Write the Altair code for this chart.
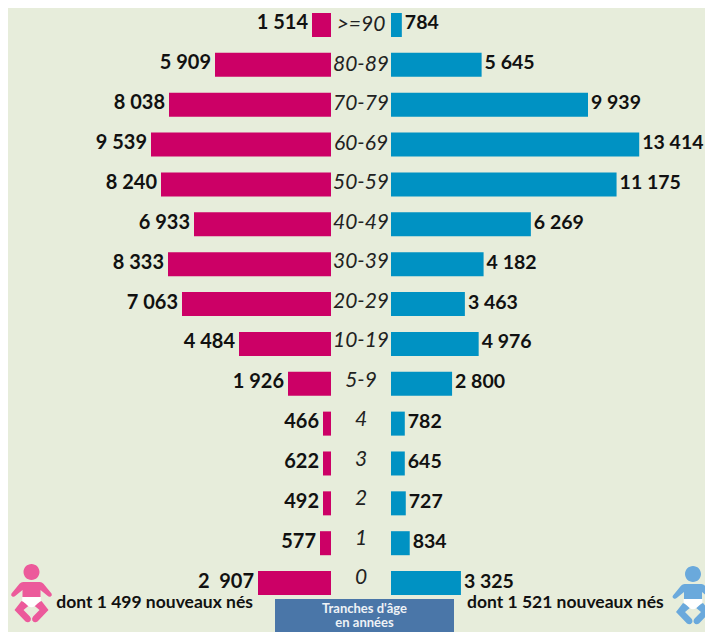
import altair as alt
import pandas as pd

ages = [">=90", "80-89", "70-79", "60-69", "50-59", "40-49", "30-39", "20-29",
        "10-19", "5-9", "4", "3", "2", "1", "0"]
women_labels = ["1 514", "5 909", "8 038", "9 539", "8 240", "6 933", "8 333", "7 063",
                "4 484", "1 926", "466", "622", "492", "577", "2\u00a0\u00a0907"]
men_labels = ["784", "5 645", "9 939", "13 414", "11 175", "6 269", "4 182", "3 463",
              "4 976", "2 800", "782", "645", "727", "834", "3 325"]
# Bar lengths as drawn in the picture (the picture's bars are not exactly proportional to their labels)
women_drawn = [950, 5800, 8100, 9000, 8500, 6850, 8150, 7450, 4600, 2150, 400, 400, 400, 550, 3650]
men_drawn = [550, 4600, 10000, 12600, 11450, 7100, 4700, 3750, 4450, 3100, 700, 700, 750, 950, 3550]
women_note = "dont 1 499 nouveaux nés"
men_note = "dont 1 521 nouveaux nés"
box_lines = ["Tranches d'âge", "en années"]

BG = "#e7eddb"
PINK = "#cc0066"
BLUE = "#0092c3"
TXT = "#111111"
FONT = "Lato"

df = pd.DataFrame({"age": ages, "w": women_drawn, "m": men_drawn,
                   "wl": women_labels, "ml": men_labels})

y_bar = alt.Y("age:N", sort=ages, axis=None, title=None,
              scale=alt.Scale(domain=ages, range=[-2.93, 595], paddingInner=0.4, paddingOuter=0.2))
y_lab = alt.Y("age:N", sort=ages, axis=None, title=None,
              scale=alt.Scale(domain=ages, range=[-4.96, 594], paddingInner=0, paddingOuter=0))
y_mid = alt.Y("age:N", sort=ages, axis=None, title=None,
              scale=alt.Scale(domain=ages, range=[-2.75, 590], paddingInner=0, paddingOuter=0))
x_w = alt.X("w:Q", axis=None, title=None, scale=alt.Scale(domain=[0, 16150], range=[323, 0]))
x_m = alt.X("m:Q", axis=None, title=None, scale=alt.Scale(domain=[0, 15939], range=[383, 697]))

base = alt.Chart(df)
bars_w = base.mark_bar(color=PINK, size=24).encode(x=x_w, y=y_bar)
bars_m = base.mark_bar(color=BLUE, size=24).encode(x=x_m, y=y_bar)
lab_w = base.mark_text(align="right", baseline="middle", dx=-4, font=FONT, fontWeight="bold",
                       fontSize=20, color=TXT).encode(x=x_w, y=y_lab, text="wl:N")
lab_m = base.mark_text(align="left", baseline="middle", dx=3, font=FONT, fontWeight="bold",
                       fontSize=19.5, color=TXT).encode(x=x_m, y=y_lab, text="ml:N")
lab_age = base.mark_text(align="center", baseline="middle", font=FONT, fontStyle="italic",
                         fontWeight=400, fontSize=21, color="#222222").encode(
    x=alt.value(353), y=y_mid, text="age:N")

one = alt.Chart(pd.DataFrame({"k": [0]}))
note_w = one.mark_text(text=women_note, align="right", baseline="middle", font=FONT, fontWeight="bold",
                       fontSize=17.5, color=TXT).encode(x=alt.value(245), y=alt.value(595))
note_m = one.mark_text(text=men_note, align="left", baseline="middle", font=FONT, fontWeight="bold",
                       fontSize=17.5, color=TXT).encode(x=alt.value(459), y=alt.value(595))
box = one.mark_rect(color="#4a76a8").encode(x=alt.value(267), x2=alt.value(446), y=alt.value(591), y2=alt.value(632))
box_t1 = one.mark_text(text=box_lines[0], align="center", baseline="middle", font=FONT, fontWeight="bold",
                       fontSize=13, color="#eef2f6").encode(x=alt.value(356.5), y=alt.value(600.5))
box_t2 = one.mark_text(text=box_lines[1], align="center", baseline="middle", font=FONT, fontWeight="bold",
                       fontSize=13, color="#eef2f6").encode(x=alt.value(356.5), y=alt.value(614.5))

# Baby pictogram, in symbol units around its centre
BODY = ("M-.4 -1.15 A.4 .4 0 1 1 .4 -1.15 A.4 .4 0 1 1 -.4 -1.15 Z "
        "M-.42 -.65 L.42 -.65 Q.52 -.65 .6 -.56 L1.0 -.08 Q1.06 .02 .96 .08 Q.88 .12 .8 .04 L.45 -.25 L.45 .25 L-.45 .25 "
        "L-.45 -.25 L-.8 .04 Q-.88 .12 -.96 .08 Q-1.06 .02 -1.0 -.08 L-.6 -.56 Q-.52 -.65 -.42 -.65 Z "
        "M-.5 .3 L-.85 .75 L-.3 1.33 Q-.15 1.42 -.04 1.27 Q0 1.18 -.08 1.08 L-.4 .75 L-.1 .5 Z "
        "M.5 .3 L.85 .75 L.3 1.33 Q.15 1.42 .04 1.27 Q0 1.18 .08 1.08 L.4 .75 L.1 .5 Z")
DIAPER = "M-.47 .1 L.47 .1 L.47 .27 L.17 .55 Q0 .68 -.17 .55 L-.47 .27 Z"


def baby(px, py, color):
    body = one.mark_point(shape=BODY, filled=True, opacity=1, color=color, size=1600).encode(
        x=alt.value(px), y=alt.value(py))
    nappy = one.mark_point(shape=DIAPER, filled=True, opacity=1, color="#ffffff", size=1600).encode(
        x=alt.value(px), y=alt.value(py))
    return body + nappy


baby_w = baby(23.5, 587, "#ec5a9b")
baby_m = baby(685, 589, "#6aa9dc")

chart = alt.layer(
    bars_w, bars_m, lab_w, lab_m, lab_age, box, box_t1, box_t2, note_w, note_m, baby_w, baby_m
).resolve_scale(x="independent", y="independent").properties(
    width=697, height=632, background=BG, padding=0,
    autosize=alt.AutoSizeParams(type="none"),
).configure_view(stroke=None)

chart.save("out.html", embed_options={"renderer": "svg", "actions": False})
